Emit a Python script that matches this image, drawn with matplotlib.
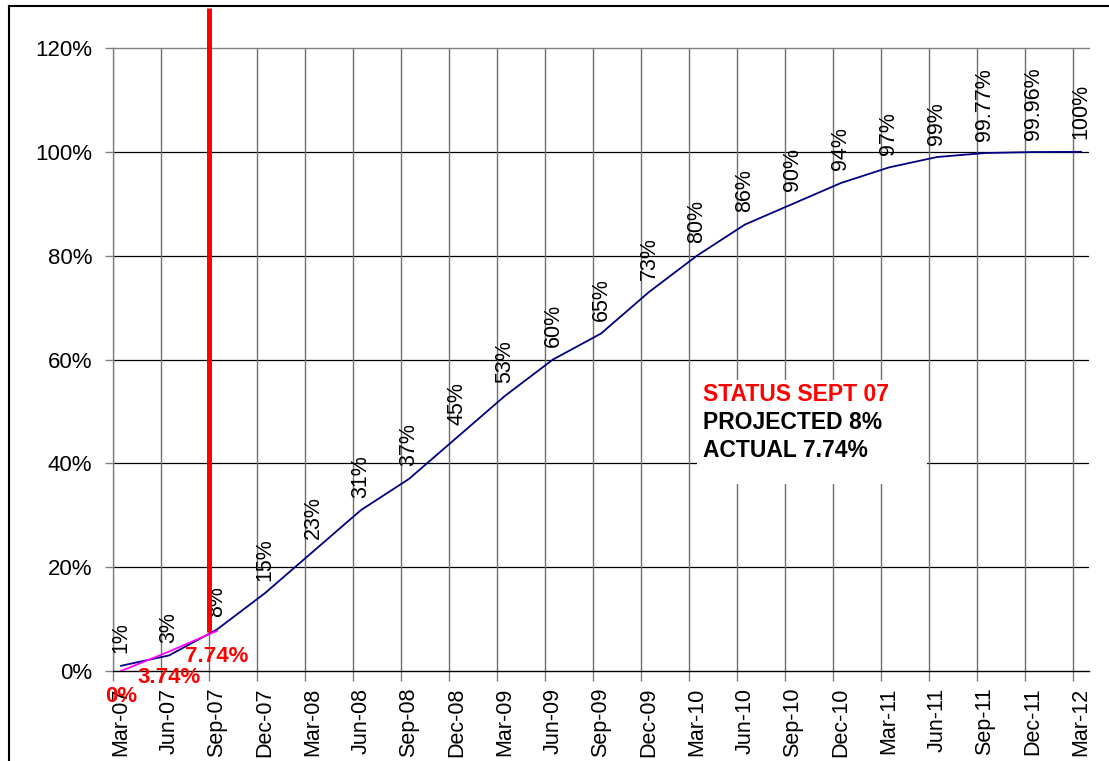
import matplotlib.pyplot as plt
from matplotlib.lines import Line2D
from matplotlib.patches import Rectangle

plt.rcParams['font.family'] = ['Liberation Sans', 'DejaVu Sans']

months = ['Mar-07', 'Jun-07', 'Sep-07', 'Dec-07', 'Mar-08', 'Jun-08', 'Sep-08',
          'Dec-08', 'Mar-09', 'Jun-09', 'Sep-09', 'Dec-09', 'Mar-10', 'Jun-10',
          'Sep-10', 'Dec-10', 'Mar-11', 'Jun-11', 'Sep-11', 'Dec-11', 'Mar-12']
planned = [1, 3, 8, 15, 23, 31, 37, 45, 53, 60, 65, 73, 80, 86, 90, 94, 97, 99,
           99.77, 99.96, 100]
planned_labels = ['1%', '3%', '8%', '15%', '23%', '31%', '37%', '45%', '53%', '60%',
                  '65%', '73%', '80%', '86%', '90%', '94%', '97%', '99%', '99.77%',
                  '99.96%', '100%']
actual = [0, 3.74, 7.74]
actual_labels = ['0%', '3.74%', '7.74%']
status_lines = ['STATUS SEPT 07', 'PROJECTED 8%', 'ACTUAL 7.74%']
status_colors = ['#ff0000', 'black', 'black']

W, H = 1109, 761
fig = plt.figure(figsize=(W / 100, H / 100), dpi=100)
ax = fig.add_axes([113 / W, (H - 671) / H, (1089 - 113) / W, (671 - 48) / H])

x = list(range(len(months)))
off = 1 / 6

ax.set_xlim(-off, len(months) - 1 + off)
ax.set_ylim(0, 120)

# vertical gridlines sit a bit left of the points
ax.set_xticks([i - off for i in x], minor=True)
ax.set_xticks(x)
ax.set_xticklabels(months, rotation=90, fontsize=15.5)
ax.tick_params(axis='x', which='major', length=0, pad=12)
ax.tick_params(axis='x', which='minor', length=7, width=1, color='#808080')
ax.grid(axis='x', which='minor', color='#707070', linewidth=1)

ax.set_yticks([0, 20, 40, 60, 80, 100, 120])
ax.set_yticklabels(['0%', '20%', '40%', '60%', '80%', '100%', '120%'], fontsize=16)
ax.tick_params(axis='y', length=6, width=1, color='#808080', pad=9)
for v in [20, 40, 60, 80, 100]:
    ax.axhline(v, color='black', linewidth=0.9, zorder=0.5)
ax.set_axisbelow(True)

ax.spines['right'].set_visible(False)
ax.spines['top'].set_color('#808080')
ax.spines['left'].set_color('#808080')
ax.spines['bottom'].set_color('black')
for s in ['top', 'left', 'bottom']:
    ax.spines[s].set_linewidth(1)

ax.plot(x, planned, color='#000080', linewidth=1.3, zorder=3)
ax.plot(x[:len(actual)], actual, color='#ff00ff', linewidth=1.3, zorder=3)

for i in x:
    ax.annotate(planned_labels[i], (i, planned[i]), xytext=(0, 9),
                textcoords='offset points', rotation=90, ha='center', va='bottom',
                fontsize=15.5, zorder=4)

for i in range(len(actual)):
    ax.annotate(actual_labels[i], (i, actual[i]), xytext=(0, -18.5),
                textcoords='offset points', ha='center', va='center',
                fontsize=16, fontweight='bold', color='#ff0000',
                annotation_clip=False, zorder=5)

ax.plot([2 - off, 2 - off], [7.5, 127.7], color='#ff0000', linewidth=3.6,
        clip_on=False, zorder=4, solid_capstyle='butt')

ax.add_patch(Rectangle((12.0, 36.0), 4.8, 20.1, facecolor='white',
                       edgecolor='none', zorder=2))
for k, line in enumerate(status_lines):
    ax.text(12.12, 53.2 - 5.4 * k, line, color=status_colors[k], fontsize=16.5,
            fontweight='bold', ha='left', va='center', zorder=5)

fig.add_artist(Line2D([9 / W, 1], [(H - 6) / H, (H - 6) / H], color='black',
                      linewidth=1.5))
fig.add_artist(Line2D([9 / W, 9 / W], [0, (H - 6) / H], color='black',
                      linewidth=1.5))

fig.savefig('out.png', dpi=100)
